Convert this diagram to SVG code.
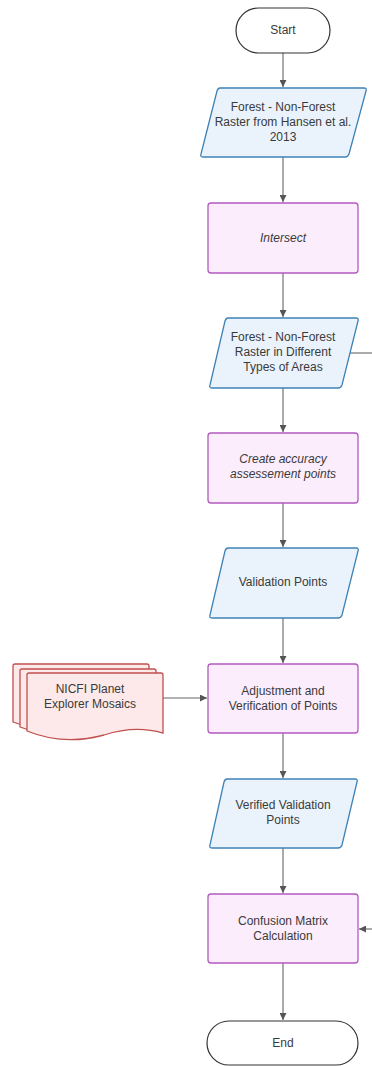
<svg xmlns="http://www.w3.org/2000/svg" width="372" height="1066" viewBox="0 0 372 1066">
<defs>
<marker id="ah" viewBox="0 0 10 10" refX="10" refY="5" markerWidth="7" markerHeight="7" orient="auto" markerUnits="userSpaceOnUse">
<path d="M0,0 L10,5 L0,10 z" fill="#555"/>
</marker>
<style>
text{font-family:"Liberation Sans",Arial,sans-serif;font-size:12px;fill:#3a3a3a;text-anchor:middle}
.it{font-style:italic}
.term{fill:#fff;stroke:#333;stroke-width:1.2}
.data{fill:#eaf3fc;stroke:#3f82b5;stroke-width:1.3}
.proc{fill:#fcedfc;stroke:#b25ac0;stroke-width:1.3}
.doc{fill:#fde9e9;stroke:#c0504d;stroke-width:1.3}
.con{stroke:#666;stroke-width:1.1;fill:none}
</style>
</defs>
<rect width="372" height="1066" fill="#fff"/>
<g id="connectors">
<line class="con" x1="283" y1="53" x2="283" y2="87" marker-end="url(#ah)"/>
<line class="con" x1="283" y1="157" x2="283" y2="202" marker-end="url(#ah)"/>
<line class="con" x1="283" y1="273" x2="283" y2="317" marker-end="url(#ah)"/>
<line class="con" x1="349" y1="353" x2="372" y2="353"/>
<line class="con" x1="283" y1="388" x2="283" y2="432" marker-end="url(#ah)"/>
<line class="con" x1="283" y1="503" x2="283" y2="547" marker-end="url(#ah)"/>
<line class="con" x1="283" y1="618" x2="283" y2="663" marker-end="url(#ah)"/>
<line class="con" x1="163" y1="698" x2="207" y2="698" marker-end="url(#ah)"/>
<line class="con" x1="283" y1="733" x2="283" y2="778" marker-end="url(#ah)"/>
<line class="con" x1="283" y1="848" x2="283" y2="893" marker-end="url(#ah)"/>
<line class="con" x1="372" y1="929" x2="359" y2="929" marker-end="url(#ah)"/>
<line class="con" x1="283" y1="963" x2="283" y2="1020" marker-end="url(#ah)"/>
</g>
<g id="start">
<rect class="term" x="236" y="8" width="94" height="45" rx="22.5"/>
<text x="283" y="34">Start</text>
</g>
<g id="raster-hansen">
<path class="data" d="M220,88 L364,88 Q367,88 366,91 L349,154 Q348,157 345,157 L203,157 Q200,157 201,154 L217,91 Q218,88 220,88 Z"/>
<text x="283" y="111">Forest - Non-Forest</text>
<text x="283" y="126">Raster from Hansen et al.</text>
<text x="283" y="141">2013</text>
</g>
<g id="intersect">
<rect class="proc" x="208" y="203" width="150" height="70" rx="3"/>
<text class="it" x="283" y="242">Intersect</text>
</g>
<g id="raster-areas">
<path class="data" d="M228,318 L356,318 Q359,318 358,321 L342,385 Q341,388 338,388 L212,388 Q209,388 210,385 L225,321 Q226,318 228,318 Z"/>
<text x="283" y="341">Forest - Non-Forest</text>
<text x="283" y="356">Raster in Different</text>
<text x="283" y="371">Types of Areas</text>
</g>
<g id="create-points">
<rect class="proc" x="208" y="433" width="150" height="70" rx="3"/>
<text class="it" x="283" y="463">Create accuracy</text>
<text class="it" x="283" y="478">assessement points</text>
</g>
<g id="validation-points">
<path class="data" d="M228,548 L356,548 Q359,548 358,551 L342,615 Q341,618 338,618 L212,618 Q209,618 210,615 L225,551 Q226,548 228,548 Z"/>
<text x="283" y="586">Validation Points</text>
</g>
<g id="nicfi">
<path class="doc" d="M15,664 L147,664 Q149,664 149,666 L149,720 Q120,716 90,726 Q50,736 13,722 L13,666 Q13,664 15,664 Z"/>
<path class="doc" d="M22,669 L154,669 Q156,669 156,671 L156,726 Q127,721 97,731 Q57,741 20,727 L20,671 Q20,669 22,669 Z"/>
<path class="doc" d="M29,673 L161,673 Q163,673 163,675 L163,733 Q135,725 104,735 Q64,746 27,731 L27,675 Q27,673 29,673 Z"/>
<text x="90" y="693">NICFI Planet</text>
<text x="90" y="708">Explorer Mosaics</text>
</g>
<g id="adjustment">
<rect class="proc" x="208" y="664" width="150" height="69" rx="3"/>
<text x="283" y="695">Adjustment and</text>
<text x="283" y="710">Verification of Points</text>
</g>
<g id="verified">
<path class="data" d="M227,779 L355,779 Q358,779 357,782 L342,845 Q341,848 338,848 L212,848 Q209,848 210,845 L224,782 Q225,779 227,779 Z"/>
<text x="283" y="809">Verified Validation</text>
<text x="283" y="824">Points</text>
</g>
<g id="confusion">
<rect class="proc" x="208" y="894" width="150" height="69" rx="3"/>
<text x="283" y="925">Confusion Matrix</text>
<text x="283" y="940">Calculation</text>
</g>
<g id="end">
<rect class="term" x="207" y="1021" width="151" height="44" rx="22"/>
<text x="283" y="1047">End</text>
</g>
</svg>
